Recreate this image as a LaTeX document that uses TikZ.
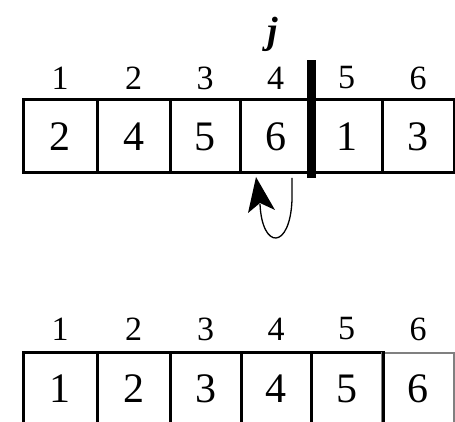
\documentclass[tikz,border=0pt]{standalone}
\usepackage{fontspec}
\setmainfont{Liberation Serif}
\usetikzlibrary{arrows.meta}
\usetikzlibrary{calc,positioning}

\tikzset{
  cell/.style={draw,line width=3pt,minimum height=73pt,inner sep=0pt,
    font=\fontsize{42}{42}\selectfont},
  idx/.style={font=\fontsize{34}{34}\selectfont,inner sep=0pt},
}

\begin{document}
\begin{tikzpicture}[x=1pt,y=-1pt]
        \useasboundingbox (0,0) rectangle (455,422);

        % top row, before the insertion
        \foreach \i/\l/\r/\v in {1/23/97/2, 2/97/170/4, 3/170/240/5, 4/240/311/6, 5/311/382/1, 6/382/454/3} {
          \node[cell,minimum width=\r pt-\l pt] (t\i) at ({(\l+\r)/2},136.5) {\v};
          \node[idx] (ti\i) at ({(\l+\r)/2},78) {\i};
        }
        \fill (307,60) rectangle (316,178);
        \node[font=\fontsize{38}{38}\selectfont\bfseries\itshape,inner sep=0pt] (j) at (273,34) {j};

        % the 6 goes back into the same place
        \coordinate (ar) at (292,178);
        \coordinate (al) at (256,177);
        \draw[line width=1.3pt] (ar) -- (292,200) .. controls (290,250) and (262,250) .. (260,204);
        \fill (al) -- (248,213) -- (260,203) -- (275,210) -- cycle;

        % bottom row, sorted
        \foreach \i/\l/\r in {1/23/97, 2/97/170, 3/170/241, 4/241/311, 5/311/382} {
          \node[cell,minimum width=\r pt-\l pt] (b\i) at ({(\l+\r)/2},389) {\i};
          \node[idx] (bi\i) at ({(\l+\r)/2},329) {\i};
        }
        \node[cell,draw=gray,line width=2pt,minimum width=72pt] (b6) at (418,389) {6};
        \node[idx] (bi6) at (418,329) {6};
        \draw[line width=3pt] (b5.north east) -- (b5.south east);
\end{tikzpicture}
\end{document}
